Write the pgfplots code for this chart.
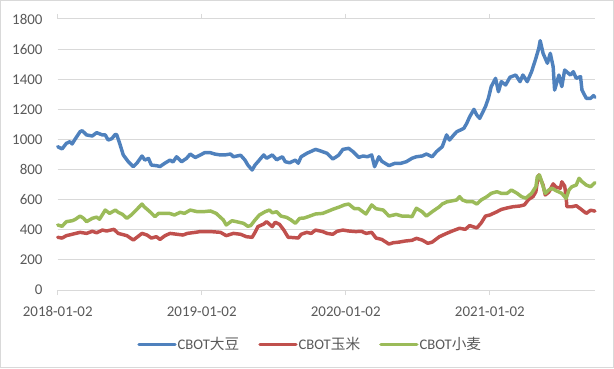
\documentclass[border=0pt]{standalone}
\usepackage{pgfplots}
\usepackage{pgfplotstable}
\pgfplotsset{compat=1.18}
\usepackage{fontspec}
\setmainfont{Carlito}
\newfontfamily\cjk{Noto Sans CJK SC}
\definecolor{soy}{RGB}{79,129,189}
\definecolor{corn}{RGB}{192,80,77}
\definecolor{wheat}{RGB}{155,187,89}
\definecolor{gridc}{RGB}{217,217,217}
\definecolor{txt}{RGB}{89,89,89}

\pgfplotstableread{
x y
0.00 952
0.03 937
0.06 974
0.085 985
0.10 970
0.12 1001
0.155 1051
0.17 1058
0.20 1030
0.24 1023
0.27 1045
0.31 1030
0.33 1030
0.35 996
0.375 1005
0.40 1034
0.41 1030
0.43 974
0.455 897
0.49 852
0.525 819
0.55 843
0.585 890
0.605 863
0.63 874
0.65 830
0.69 825
0.71 820
0.745 843
0.78 863
0.80 850
0.825 885
0.86 852
0.895 875
0.92 903
0.955 880
0.99 897
1.02 912
1.06 912
1.09 903
1.13 897
1.16 897
1.20 903
1.22 885
1.27 895
1.30 863
1.32 830
1.35 797
1.37 830
1.39 852
1.43 897
1.45 875
1.49 897
1.52 865
1.56 885
1.58 852
1.61 845
1.65 863
1.67 842
1.69 885
1.73 908
1.79 934
1.82 925
1.87 908
1.91 870
1.95 895
1.98 934
2.02 941
2.05 919
2.09 881
2.12 890
2.15 885
2.18 897
2.20 819
2.23 885
2.25 855
2.30 826
2.34 841
2.38 841
2.42 852
2.46 875
2.49 885
2.53 890
2.56 903
2.60 885
2.63 919
2.67 952
2.70 1030
2.72 996
2.75 1030
2.77 1051
2.79 1060
2.82 1074
2.84 1107
2.86 1150
2.89 1200
2.91 1162
2.93 1140
2.97 1218
2.99 1273
3.01 1351
3.04 1406
3.06 1317
3.08 1384
3.11 1362
3.14 1413
3.18 1428
3.21 1384
3.23 1428
3.26 1384
3.28 1428
3.29 1450
3.32 1539
3.34 1605
3.35 1656
3.37 1572
3.40 1506
3.42 1572
3.44 1483
3.45 1328
3.48 1428
3.50 1351
3.52 1461
3.56 1428
3.58 1450
3.60 1406
3.63 1417
3.64 1328
3.67 1273
3.70 1273
3.72 1291
3.73 1280
}\soytab

\pgfplotstableread{
x y
0.00 350
0.03 345
0.06 361
0.10 370
0.155 383
0.20 376
0.24 390
0.27 380
0.31 398
0.34 392
0.39 403
0.42 376
0.48 361
0.525 332
0.55 350
0.585 376
0.62 365
0.65 345
0.685 354
0.71 336
0.745 361
0.78 376
0.83 370
0.87 365
0.90 376
0.955 383
0.99 388
1.06 388
1.13 383
1.17 361
1.22 376
1.27 370
1.31 354
1.35 350
1.37 383
1.39 421
1.43 438
1.45 454
1.49 421
1.51 450
1.54 436
1.57 398
1.60 350
1.64 348
1.67 345
1.69 370
1.73 383
1.76 376
1.79 398
1.84 388
1.87 376
1.91 370
1.94 390
1.98 398
2.02 392
2.07 388
2.11 390
2.14 376
2.18 383
2.21 345
2.25 336
2.30 305
2.33 314
2.37 318
2.41 325
2.46 330
2.49 343
2.53 332
2.57 310
2.60 318
2.65 354
2.70 376
2.74 392
2.79 410
2.83 403
2.86 428
2.91 412
2.94 445
2.97 491
3.00 498
3.05 520
3.08 535
3.12 545
3.16 553
3.21 558
3.24 565
3.27 602
3.30 620
3.32 653
3.33 719
3.34 764
3.37 697
3.385 631
3.41 650
3.44 705
3.46 683
3.49 676
3.50 719
3.52 690
3.53 620
3.535 553
3.57 553
3.60 560
3.63 539
3.67 509
3.70 530
3.73 524
}\corntab

\pgfplotstableread{
x y
0.00 432
0.03 423
0.06 454
0.10 460
0.12 468
0.155 491
0.18 476
0.20 454
0.24 476
0.27 484
0.29 470
0.33 531
0.36 509
0.40 531
0.42 516
0.45 502
0.48 476
0.51 498
0.545 531
0.585 571
0.60 553
0.64 520
0.675 487
0.70 509
0.74 509
0.775 509
0.81 498
0.85 516
0.88 509
0.92 531
0.97 520
1.01 520
1.06 525
1.10 509
1.15 465
1.17 432
1.21 460
1.24 454
1.29 443
1.32 423
1.34 428
1.37 465
1.40 498
1.44 520
1.47 531
1.49 513
1.52 520
1.55 491
1.59 482
1.62 465
1.65 443
1.68 476
1.71 478
1.75 491
1.79 505
1.84 509
1.91 536
1.96 553
1.99 565
2.02 571
2.06 540
2.09 540
2.14 505
2.18 565
2.21 540
2.26 531
2.30 491
2.35 502
2.39 491
2.43 491
2.46 487
2.49 543
2.53 520
2.56 491
2.60 520
2.65 553
2.67 571
2.70 585
2.77 598
2.79 620
2.81 598
2.84 587
2.88 587
2.91 571
2.94 598
2.98 620
3.01 642
3.05 653
3.08 642
3.12 642
3.15 664
3.19 642
3.22 620
3.25 610
3.29 642
3.32 686
3.33 753
3.345 764
3.36 720
3.385 642
3.41 665
3.43 676
3.46 660
3.50 642
3.53 608
3.55 665
3.57 686
3.60 697
3.62 742
3.64 720
3.67 697
3.70 686
3.73 713
}\wheattab

\begin{document}
\begin{tikzpicture}
\path[use as bounding box] (0,0) rectangle (460.5pt,276pt);
\draw[gridc, line width=0.75pt] (0.375pt,0.375pt) rectangle (460.125pt,275.625pt);
\begin{axis}[
  at={(43.3pt,58.5pt)}, anchor=south west,
  scale only axis, width=403pt, height=203.25pt,
  xmin=0, xmax=3.731, ymin=0, ymax=1800,
  ytick={0,200,...,1800},
  xtick={0,1,2,3},
  xticklabels={2018-01-02,2019-01-02,2020-01-02,2021-01-02},
  axis line style={draw=none},
  ymajorgrids, grid style={gridc, line width=0.75pt},
  ytick style={draw=none},
  xtick style={gridc, line width=0.75pt},
  tick align=outside, major tick length=3.75pt,
  /pgf/number format/1000 sep={},
  /pgf/number format/assume math mode=true,
  ticklabel style={font=\fontsize{11.2}{13}\selectfont, text=txt},
  yticklabel style={anchor=east, inner sep=0pt, xshift=-7.5pt},
  xticklabel style={anchor=north, inner sep=0pt, yshift=-8.5pt},
  clip=false,
  legend columns=3,
  legend style={at={(0.469,-0.2)}, anchor=center, draw=none, fill=none,
    font=\fontsize{11}{13}\selectfont, text=txt,
    nodes={inner sep=0.75pt},
    /tikz/every odd column/.append style={column sep=0pt},
    /tikz/every even column/.append style={column sep=13.5pt},
    inner sep=0pt},
  legend cell align=left,
  legend image code/.code={\draw[#1, line width=2.5pt] (0pt,0pt) -- (27pt,0pt);},
  every axis plot/.append style={line width=2.6pt, line join=round, line cap=round},
]
\addplot[soy] table {\soytab};
\addlegendentry{CBOT{\cjk 大豆}}
\addplot[corn] table {\corntab};
\addlegendentry{CBOT{\cjk 玉米}}
\addplot[wheat] table {\wheattab};
\addlegendentry{CBOT{\cjk 小麦}}
\end{axis}
\end{tikzpicture}
\end{document}
